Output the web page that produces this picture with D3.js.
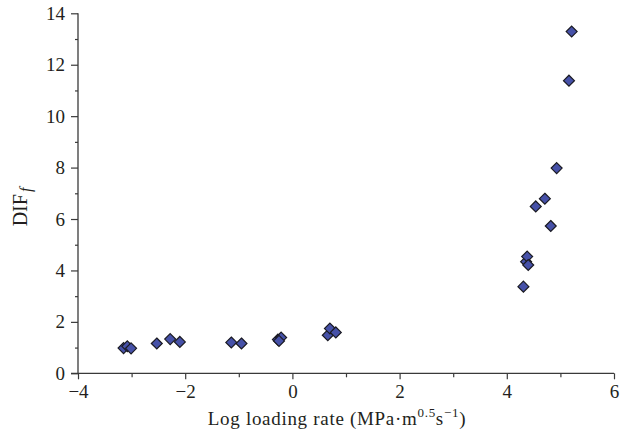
<!DOCTYPE html>
<html>
<head>
<meta charset="utf-8">
<script src="https://cdn.jsdelivr.net/npm/d3@7"></script>
<style>
  html, body { margin: 0; padding: 0; background: #fff; }
  svg { display: block; }
  text { font-family: "Liberation Serif", "Times New Roman", serif; fill: #231f20; }
</style>
</head>
<body>
<svg id="chart" width="636" height="443"></svg>
<script>
// Log loading rate (MPa·m^0.5 s^-1) and dynamic increase factor DIF_f
const logRate = [
  -3.15, -3.08, -3.01, -2.53, -2.28, -2.10,
  -1.14, -0.95, -0.27, -0.21, -0.25,
  0.66, 0.70, 0.81,
  4.31, 4.36, 4.38, 4.40,
  4.54, 4.71, 4.82, 4.93, 5.16, 5.21
];
const difF = [
  0.98, 1.05, 0.97, 1.16, 1.33, 1.22,
  1.20, 1.16, 1.31, 1.39, 1.26,
  1.48, 1.74, 1.59,
  3.37, 4.34, 4.54, 4.21,
  6.49, 6.79, 5.73, 7.98, 11.38, 13.29
];
const xTicks = [-4, -3, -2, -1, 0, 1, 2, 3, 4, 5, 6];
const yTicks = [0, 1, 2, 3, 4, 5, 6, 7, 8, 9, 10, 11, 12, 13, 14];

const svg = d3.select("#chart");
const plotLeft = 78, plotRight = 614, plotTop = 13.3, plotBottom = 373.3;

const x = d3.scaleLinear().domain([-4, 6]).range([plotLeft, plotRight]);
const y = d3.scaleLinear().domain([0, 14]).range([plotBottom, plotTop]);

const axisColor = "#3a3a3a";
const fmt = d => (d < 0 ? "\u2212" + Math.abs(d) : String(d));

// x axis
const gx = svg.append("g").attr("transform", `translate(0,${plotBottom})`)
  .call(d3.axisBottom(x).tickValues(xTicks).tickSize(6).tickPadding(5)
    .tickFormat(d => d % 2 === 0 ? fmt(d) : ""));
gx.selectAll(".tick line").attr("y2", d => d % 2 === 0 ? 6 : 4);

// y axis
const gy = svg.append("g").attr("transform", `translate(${plotLeft},0)`)
  .call(d3.axisLeft(y).tickValues(yTicks).tickSize(7).tickPadding(6)
    .tickFormat(d => d % 2 === 0 ? fmt(d) : ""));
gy.selectAll(".tick line").attr("x2", d => d % 2 === 0 ? -7 : -3);

[gx, gy].forEach(g => {
  g.select(".domain").attr("stroke", axisColor).attr("stroke-width", 1.3);
  g.selectAll(".tick line").attr("stroke", axisColor).attr("stroke-width", 1.2);
  g.selectAll(".tick text").attr("font-size", 19).attr("fill", "#231f20")
    .attr("font-family", "Liberation Serif, serif");
});
gx.select(".domain").attr("d", `M${plotLeft - 7},0H${plotRight}`);
gy.select(".domain").attr("d", `M0,${plotTop}V${plotBottom}`);

// data markers: diamonds
const diamond = d3.symbol().type(d3.symbolDiamond2).size(76);
svg.append("g").selectAll("path")
  .data(logRate.map((v, i) => [v, difF[i]]))
  .join("path")
  .attr("d", diamond)
  .attr("transform", d => `translate(${x(d[0])},${y(d[1])})`)
  .attr("fill", "#4651a8")
  .attr("stroke", "#1a1a22")
  .attr("stroke-width", 1.2);

// x axis title
const xt = svg.append("text")
  .attr("x", 337).attr("y", 425)
  .attr("text-anchor", "middle")
  .attr("font-size", 19)
  .attr("letter-spacing", 0.7);
xt.append("tspan").text("Log loading rate (MPa\u00b7m");
xt.append("tspan").attr("font-size", 13).attr("dy", -8).text("0.5");
xt.append("tspan").attr("dy", 8).text("s");
xt.append("tspan").attr("font-size", 13).attr("dy", -8).text("\u22121");
xt.append("tspan").attr("dy", 8).text(")");

// y axis title
const yt = svg.append("text")
  .attr("transform", "translate(27,207) rotate(-90)")
  .attr("text-anchor", "middle")
  .attr("font-size", 20);
yt.append("tspan").text("DIF");
yt.append("tspan").attr("font-style", "italic").attr("font-size", 16)
  .attr("dx", 2).attr("dy", 4).text("f");
</script>
</body>
</html>
